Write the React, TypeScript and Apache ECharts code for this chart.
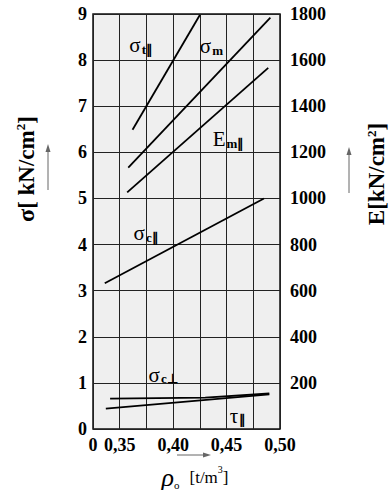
import React, { useEffect, useRef } from "react";
import * as echarts from "echarts";

// x axis: density rho_o [t/m3]; grid every 0.025 (the left edge is an axis break shown as "0")
const xMin = 0.325;
const xMax = 0.5;
const xStep = 0.025;
const xTickText: Record<string, string> = {
  "325": "0",
  "350": "0,35",
  "400": "0,40",
  "450": "0,45",
  "500": "0,50",
};

// left axis: sigma [kN/cm2]
const sigmaMin = 0;
const sigmaMax = 9;
const sigmaStep = 1;
// right axis: E [kN/cm2]
const eMin = 0;
const eMax = 1800;
const eStep = 200;

// curves [rho, value]
const sigmaTPar = [[0.362, 6.49], [0.425, 8.98]];
const sigmaM = [[0.358, 5.67], [0.491, 8.92]];
const eMPar = [[0.357, 1026], [0.489, 1566]]; // on the E axis
const sigmaCPar = [[0.336, 3.16], [0.485, 5.0]];
const sigmaCPerp = [[0.341, 0.66], [0.43, 0.68], [0.49, 0.77]];
const tauPar = [[0.337, 0.44], [0.49, 0.75]];

// curve captions, anchored in data units (left axis)
const captions = [
  { main: "σ", sub: "t∥", at: [0.359, 8.32] },
  { main: "σ", sub: "m", at: [0.425, 8.3] },
  { main: "E", sub: "m∥", at: [0.437, 6.28] },
  { main: "σ", sub: "c∥", at: [0.363, 4.25] },
  { main: "σ", sub: "c⊥", at: [0.377, 1.18] },
  { main: "τ", sub: "∥", at: [0.453, 0.29] },
];

const SERIF = "Liberation Serif";

export default function App() {
  const ref = useRef<HTMLDivElement>(null);

  useEffect(() => {
    if (!ref.current) return;
    const chart = echarts.init(ref.current, undefined, { renderer: "svg" });
    const lineStyle = { color: "#000", width: 1.8 };
    const tickRich = {
      a: { fontFamily: SERIF, fontWeight: "bold", fontSize: 18, color: "#000" },
    };
    const mkLine = (name: string, data: number[][], yAxisIndex = 0) => ({
      name,
      type: "line",
      yAxisIndex,
      data,
      showSymbol: false,
      symbol: "none",
      lineStyle,
      silent: true,
    });

    chart.setOption({
      animation: false,
      textStyle: { fontFamily: SERIF },
      grid: {
        left: 93,
        right: 109,
        top: 14,
        bottom: 61,
        show: true,
        backgroundColor: "#efefef",
        borderColor: "#111",
        borderWidth: 1.5,
      },
      xAxis: {
        type: "value",
        min: xMin,
        max: xMax,
        interval: xStep,
        axisLine: { show: false },
        axisTick: { show: false },
        splitLine: { show: true, lineStyle: { color: "#222", width: 1 } },
        axisLabel: {
          fontFamily: SERIF,
          fontWeight: "bold",
          fontSize: 18,
          color: "#000",
          rich: tickRich,
          margin: 7,
          showMinLabel: true,
          showMaxLabel: true,
          formatter: (v: number) => {
            const t = xTickText[String(Math.round(v * 1000))];
            return t ? `{a|${t}}` : "";
          },
        },
      },
      yAxis: [
        {
          type: "value",
          min: sigmaMin,
          max: sigmaMax,
          interval: sigmaStep,
          axisLine: { show: false },
          axisTick: { show: false },
          splitLine: { show: true, lineStyle: { color: "#222", width: 1 } },
          axisLabel: {
            fontFamily: SERIF,
            fontWeight: "bold",
            fontSize: 18,
            color: "#000",
            rich: tickRich,
            margin: 6,
            formatter: (v: number) => `{a|${v}}`,
          },
        },
        {
          type: "value",
          position: "right",
          min: eMin,
          max: eMax,
          interval: eStep,
          axisLine: { show: false },
          axisTick: { show: false },
          splitLine: { show: false },
          axisLabel: {
            fontFamily: SERIF,
            fontWeight: "bold",
            fontSize: 18,
            color: "#000",
            rich: tickRich,
            margin: 10,
            formatter: (v: number) => (v === 0 ? "" : `{a|${v}}`),
          },
        },
      ],
      series: [
        mkLine("σt∥", sigmaTPar),
        mkLine("σm", sigmaM),
        mkLine("Em∥", eMPar, 1),
        mkLine("σc∥", sigmaCPar),
        mkLine("σc⊥", sigmaCPerp),
        mkLine("τ∥", tauPar),
      ],
    });

    const capRich = {
      m: { fontFamily: SERIF, fontSize: 21, color: "#000" },
      s: { fontFamily: SERIF, fontSize: 13, fontWeight: "bold", color: "#000", verticalAlign: "bottom", padding: [6, 0, 0, 1] },
    };
    const capEls = captions.map((c) => {
      const p = chart.convertToPixel({ xAxisIndex: 0, yAxisIndex: 0 }, c.at) as number[];
      return {
        type: "text",
        x: p[0],
        y: p[1],
        silent: true,
        style: {
          text: `{m|${c.main}}{s|${c.sub}}`,
          rich: capRich,
          align: "left",
          verticalAlign: "middle",
        },
      };
    });

    const nameRich = {
      g: { fontFamily: SERIF, fontSize: 24, fontWeight: "bold", color: "#000" },
      t: { fontFamily: SERIF, fontSize: 23, fontWeight: "bold", color: "#000" },
      p: { fontFamily: SERIF, fontSize: 13, fontWeight: "bold", color: "#000", verticalAlign: "top" },
    };
    const arrowColor = "#666";

    chart.setOption({
      graphic: [
        ...capEls,
        {
          type: "text",
          x: 26,
          y: 169,
          rotation: Math.PI / 2,
          silent: true,
          style: {
            text: "{g|σ}{t|[ kN/cm}{p|2}{t|]}",
            rich: nameRich,
            align: "center",
            verticalAlign: "middle",
          },
        },
        {
          type: "text",
          x: 376,
          y: 174,
          rotation: Math.PI / 2,
          silent: true,
          style: {
            text: "{t|E[kN/cm}{p|2}{t|]}",
            rich: nameRich,
            align: "center",
            verticalAlign: "middle",
          },
        },
        {
          type: "text",
          x: 195,
          y: 477,
          silent: true,
          style: {
            text: "{r|ρ}{o|o}   {u|[t/m}{q|3}{u|]}",
            rich: {
              r: { fontFamily: SERIF, fontSize: 26, fontStyle: "italic", color: "#666" },
              o: { fontFamily: SERIF, fontSize: 11, color: "#666", verticalAlign: "bottom" },
              u: { fontFamily: SERIF, fontSize: 17, color: "#555" },
              q: { fontFamily: SERIF, fontSize: 10, color: "#555", verticalAlign: "top" },
            },
            align: "center",
            verticalAlign: "middle",
          },
        },
        // arrows
        { type: "line", silent: true, shape: { x1: 48, y1: 190, x2: 48, y2: 150 }, style: { stroke: arrowColor, lineWidth: 1 } },
        { type: "polygon", silent: true, shape: { points: [[48, 144], [45.5, 152], [50.5, 152]] }, style: { fill: arrowColor } },
        { type: "line", silent: true, shape: { x1: 349, y1: 193, x2: 349, y2: 153 }, style: { stroke: arrowColor, lineWidth: 1 } },
        { type: "polygon", silent: true, shape: { points: [[349, 147], [346.5, 155], [351.5, 155]] }, style: { fill: arrowColor } },
        { type: "line", silent: true, shape: { x1: 177, y1: 455, x2: 205, y2: 455 }, style: { stroke: arrowColor, lineWidth: 1 } },
        { type: "polygon", silent: true, shape: { points: [[211, 455], [203, 452.5], [203, 457.5]] }, style: { fill: arrowColor } },
      ],
    });

    return () => chart.dispose();
  }, []);

  return (
    <div
      ref={ref}
      style={{ position: "fixed", left: 0, top: 0, width: 389, height: 490, background: "#fff" }}
    />
  );
}
